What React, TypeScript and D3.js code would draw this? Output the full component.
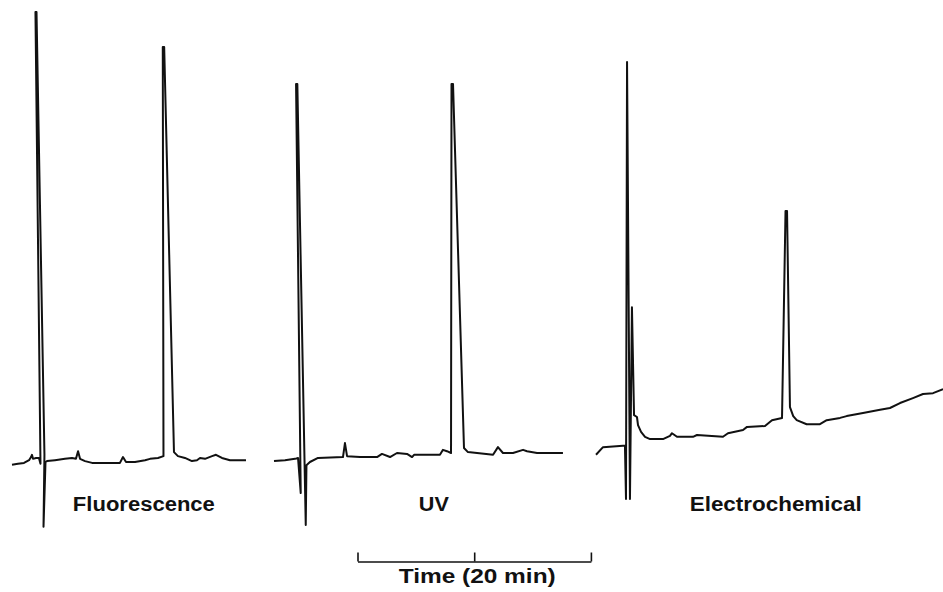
import { useRef, useEffect } from "react";
import * as d3 from "d3";

// time in minutes from start of each recording, detector signal in arbitrary units
// (tall peaks lean back a little, as the recorder pen did)
const fluorescence: [number, number][] = [
  [0, -0.6], [0.51, -0.4], [1.03, -0.2], [1.46, 0.4], [1.63, 1.1], [1.71, 1.6],
  [1.8, 0.7], [2.06, 0.9], [2.31, 0.9], [2.44, -0.4], [2.01, 100], [2.1, 100],
  [2.78, 1.6], [2.7, -14.4], [2.87, 0], [3.0, 0.2], [3.68, 0.4], [4.54, 0.7], [5.14, 0.9],
  [5.48, 0.7], [5.66, 2.4], [5.83, 0.7], [6.26, 0.2], [6.86, -0.2], [9.25, -0.2],
  [9.51, 1.1], [9.77, 0], [10.54, 0], [11.4, 0.4], [11.83, 0.7], [12.51, 0.9],
  [12.98, 1.3], [12.92, 92.2], [13.04, 92.2], [13.88, 2.2], [14.22, 1.3], [14.82, 0.9],
  [15.42, 0.2], [15.85, 0.4], [16.11, 0.9], [16.54, 0.7], [17.14, 1.3], [17.48, 1.6],
  [17.99, 0.9], [18.68, 0.4], [20.05, 0.4],
];

const uv: [number, number][] = [
  [0, 0.2], [0.94, 0.4], [1.8, 0.7], [2.06, 0.9], [2.29, -6.9], [1.89, 84], [2.0, 84],
  [2.72, -14], [2.78, -0.7], [3.08, 0], [3.77, 0.9], [5.91, 1.1],
  [6.08, 4.2], [6.26, 1.3], [7.37, 1.1], [8.83, 1.1], [9.25, 1.8], [9.94, 1.1],
  [10.54, 2.0], [11.4, 1.8], [11.83, 1.1], [12.0, 1.6], [14.22, 1.6], [14.48, 2.7],
  [14.82, 2.4], [15.17, 2.0], [15.21, 84], [15.34, 84], [16.28, 3.1], [16.62, 2.2],
  [17.4, 2.0], [18.77, 1.6], [19.19, 3.3], [19.62, 2.0], [20.48, 2.0], [21.34, 2.7],
  [21.68, 2.4], [22.54, 2.0], [24.76, 2.0],
];

const electrochemical: [number, number][] = [
  [0, 1.6], [0.6, 3.3], [2.31, 3.6], [2.48, 3.6], [2.57, -8.2], [2.66, 88.9],
  [2.91, -8.2], [3.08, 34.4], [3.26, 10.4], [3.51, 10], [3.6, 8.2], [3.86, 6.7],
  [4.2, 5.6], [4.63, 5.1], [5.74, 5.1], [6.34, 5.8], [6.51, 6.4], [6.94, 5.6],
  [8.31, 5.6], [8.65, 6.0], [10.88, 5.6], [11.31, 6.4], [12.6, 7.1], [12.94, 7.8],
  [14.48, 8.0], [15.08, 9.3], [15.94, 9.8], [16.24, 55.8], [16.37, 55.8], [16.62, 12.2],
  [16.9, 10.2], [17.2, 9.3], [18.05, 8.4], [19.19, 8.4], [19.77, 9.3], [20.91, 9.8],
  [21.48, 10.2], [22.88, 10.9], [24.34, 11.6], [25.19, 12.0], [26.05, 13.1],
  [27.16, 14.2], [28.02, 15.1], [28.88, 15.3], [29.74, 16.2],
];

const detectors = ["Fluorescence", "UV", "Electrochemical"];
const scaleTicks = [0, 10, 20];
const scaleLabel = "Time (20 min)";

export default function App() {
  const ref = useRef<SVGSVGElement>(null);

  function init() {
    const settings = {
      width: 943,
      height: 592,
      pxPerMin: 11.67,
      font: "'Liberation Sans', Arial, Helvetica, sans-serif",
    };

    const svg = d3.select(ref.current);
    svg.selectAll("*").remove();

    const y = d3.scaleLinear().domain([0, 100]).range([462, 12]);

    const panels = [
      { data: fluorescence, x0: 12, labelT: 11.3, labelW: 142 },
      { data: uv, x0: 274, labelT: 13.7, labelW: 30 },
      { data: electrochemical, x0: 596, labelT: 15.4, labelW: 172 },
    ];

    panels.forEach((p, i) => {
      const x = d3
        .scaleLinear()
        .domain([0, 20])
        .range([p.x0, p.x0 + 20 * settings.pxPerMin]);

      const line = d3
        .line<[number, number]>()
        .x((d) => x(d[0]))
        .y((d) => y(d[1]));

      svg
        .append("path")
        .datum(p.data)
        .attr("d", line)
        .attr("fill", "none")
        .attr("stroke", "#111")
        .attr("stroke-width", 2)
        .attr("stroke-linejoin", "round");

      svg
        .append("text")
        .attr("x", x(p.labelT))
        .attr("y", 511)
        .attr("text-anchor", "middle")
        .attr("font-family", settings.font)
        .attr("font-weight", "bold")
        .attr("font-size", 19.5)
        .attr("textLength", p.labelW)
        .attr("lengthAdjust", "spacingAndGlyphs")
        .attr("fill", "#111")
        .text(detectors[i]);
    });

    // time scale bar
    const t = d3.scaleLinear().domain([0, 20]).range([357.5, 357.5 + 20 * settings.pxPerMin]);
    svg
      .append("g")
      .attr("transform", "translate(0,561.5)")
      .call(
        d3
          .axisTop(t)
          .tickValues(scaleTicks)
          .tickSize(9)
          .tickSizeOuter(0)
          .tickFormat(() => "")
      )
      .call((g) => g.selectAll("line,path").attr("stroke", "#111").attr("stroke-width", 1.6));

    svg
      .append("text")
      .attr("x", t(10) + 3)
      .attr("y", 583)
      .attr("text-anchor", "middle")
      .attr("font-family", settings.font)
      .attr("font-weight", "bold")
      .attr("font-size", 19.5)
      .attr("textLength", 157)
      .attr("lengthAdjust", "spacingAndGlyphs")
      .attr("fill", "#111")
      .text(scaleLabel);
  }

  useEffect(init, []);
  return (
    <svg
      ref={ref}
      width={943}
      height={592}
      style={{ position: "absolute", left: 0, top: 0, background: "#fff" }}
    ></svg>
  );
}
